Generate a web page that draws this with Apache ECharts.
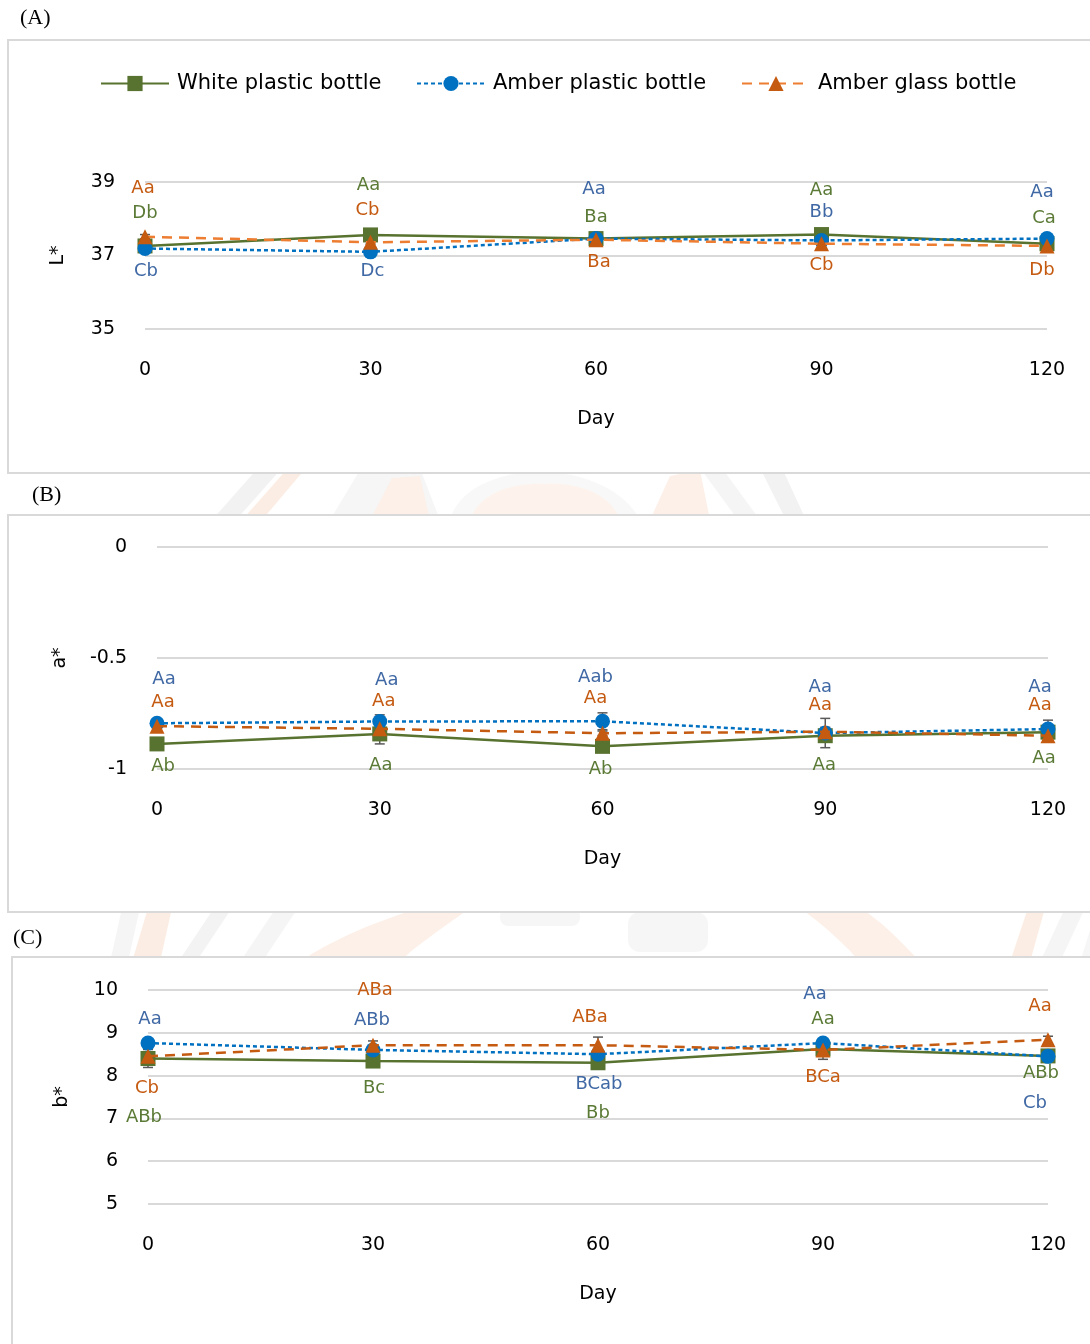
<!DOCTYPE html>
<html>
<head>
<meta charset="utf-8">
<title>Colour values L*, a*, b* during storage</title>
<script src="https://cdn.jsdelivr.net/npm/echarts@6/dist/echarts.min.js"></script>
<style>
  html, body { margin: 0; padding: 0; background: #fff; }
  #wrap { position: relative; width: 1090px; height: 1344px; overflow: hidden; }
  #emblem { position: absolute; left: 0; top: 0; }
  .panel { position: absolute; border: 2px solid #d9d9d9; background: #fff; box-sizing: border-box; }
  #chart { position: absolute; left: 0; top: 0; width: 1090px; height: 1344px; }
</style>
</head>
<body>
<div id="wrap">
  <!-- faint page emblem behind the panels -->
  <svg id="emblem" width="1090" height="1344" xmlns="http://www.w3.org/2000/svg">
    <g opacity="0.5">
      <polygon points="212,520 236,520 282,468 258,468" fill="#e6e6e6"/>
      <polygon points="242,520 262,520 306,468 288,468" fill="#f9dcc8"/>
      <path d="M330,520 L360,470 L420,468 L440,520 Z" fill="#eeeeee"/>
      <path d="M370,520 L392,478 L420,476 L430,520 Z" fill="#fbe2d2"/>
      <path d="M450,520 C460,480 520,470 540,472 C560,470 620,480 640,520 Z" fill="#f3f3f3"/>
      <path d="M470,520 C480,490 520,482 545,484 C570,482 610,490 620,520 Z" fill="#fde8db"/>
      <path d="M650,520 L670,476 L700,470 L710,520 Z" fill="#fbe2d2"/>
      <polygon points="700,468 722,468 760,520 738,520" fill="#ececec"/>
      <polygon points="760,468 782,468 806,520 786,520" fill="#e6e6e6"/>
      <polygon points="110,962 128,962 140,908 122,908" fill="#ececec"/>
      <polygon points="132,962 160,962 172,908 148,908" fill="#f9dcc8"/>
      <polygon points="178,962 196,962 232,908 214,908" fill="#e8e8e8"/>
      <polygon points="240,962 262,962 298,908 276,908" fill="#ececec"/>
      <path d="M300,962 C330,940 380,920 420,908 L470,908 C440,930 410,950 400,962 Z" fill="#fbe2d2"/>
      <rect x="500" y="908" width="80" height="18" rx="8" fill="#eeeeee"/>
      <rect x="628" y="912" width="80" height="40" rx="12" fill="#eeeeee"/>
      <path d="M920,962 C900,940 880,920 860,908 L800,908 C830,930 850,950 860,962 Z" fill="#fbe2d2"/>
      <polygon points="1040,962 1060,962 1085,908 1065,908" fill="#ececec"/>
      <polygon points="1080,962 1090,962 1090,930" fill="#eeeeee"/>
      <polygon points="1010,962 1030,962 1045,908 1028,908" fill="#f9dcc8"/>
    </g>
  </svg>
  <div class="panel" style="left:7px;top:39px;width:1100px;height:435px"></div>
  <div class="panel" style="left:7px;top:514px;width:1100px;height:399px"></div>
  <div class="panel" style="left:11px;top:956px;width:1100px;height:420px"></div>
  <div id="chart"></div>
</div>
<script>
// Storage time (days)
const days = [0, 30, 60, 90, 120];
const seriesNames = ['White plastic bottle', 'Amber plastic bottle', 'Amber glass bottle'];

// (A) L*
const lWhite = [37.26, 37.56, 37.46, 37.57, 37.32];
const lAmberPlastic = [37.19, 37.10, 37.46, 37.41, 37.46];
const lAmberGlass = [37.51, 37.36, 37.43, 37.32, 37.26];
const lWhiteSd = [0.06, 0.08, 0.05, 0.06, 0.05];
const lAmberPlasticSd = [0.05, 0.06, 0.05, 0.05, 0.06];
const lAmberGlassSd = [0.06, 0.05, 0.05, 0.05, 0.06];
const lWhiteLetters = ['Db', 'Aa', 'Ba', 'Aa', 'Ca'];
const lAmberPlasticLetters = ['Cb', 'Dc', 'Aa', 'Bb', 'Aa'];
const lAmberGlassLetters = ['Aa', 'Cb', 'Ba', 'Cb', 'Db'];

// (B) a*
const aWhite = [-0.887, -0.842, -0.898, -0.850, -0.834];
const aAmberPlastic = [-0.794, -0.786, -0.785, -0.838, -0.820];
const aAmberGlass = [-0.807, -0.819, -0.839, -0.832, -0.850];
const aWhiteSd = [0.01, 0.045, 0.01, 0.02, 0.01];
const aAmberPlasticSd = [0.01, 0.03, 0.038, 0.066, 0.04];
const aAmberGlassSd = [0.01, 0.01, 0.01, 0.02, 0.01];
const aWhiteLetters = ['Ab', 'Aa', 'Ab', 'Aa', 'Aa'];
const aAmberPlasticLetters = ['Aa', 'Aa', 'Aab', 'Aa', 'Aa'];
const aAmberGlassLetters = ['Aa', 'Aa', 'Aa', 'Aa', 'Aa'];

// (C) b*
const bWhite = [8.40, 8.34, 8.30, 8.62, 8.46];
const bAmberPlastic = [8.76, 8.60, 8.50, 8.76, 8.45];
const bAmberGlass = [8.45, 8.71, 8.71, 8.60, 8.84];
const bWhiteSd = [0.21, 0.08, 0.06, 0.08, 0.06];
const bAmberPlasticSd = [0.06, 0.08, 0.06, 0.06, 0.06];
const bAmberGlassSd = [0.08, 0.10, 0.19, 0.22, 0.08];
const bWhiteLetters = ['ABb', 'Bc', 'Bb', 'Aa', 'ABb'];
const bAmberPlasticLetters = ['Aa', 'ABb', 'BCab', 'Aa', 'Cb'];
const bAmberGlassLetters = ['Cb', 'ABa', 'ABa', 'BCa', 'Aa'];

// Placement of the significance letters, px from each marker [dx, dy]
const lWhiteLetterPos = [[0, -33], [-2, -50], [0, -21], [0, -44], [-3, -25]];
const lAmberPlasticLetterPos = [[1, 23], [2, 20], [-2, -49], [0, -28], [-5, -46]];
const lAmberGlassLetterPos = [[-2, -48], [-3, -32], [3, 23], [0, 22], [-5, 24]];
const aWhiteLetterPos = [[6, 22], [1, 31], [-2, 23], [-1, 30], [-4, 26]];
const aAmberPlasticLetterPos = [[7, -44], [7, -41], [-7, -44], [-5, -46], [-8, -42]];
const aAmberGlassLetterPos = [[6, -24], [4, -27], [-7, -35], [-5, -26], [-8, -30]];
const bWhiteLetterPos = [[-4, 59], [1, 27], [0, 51], [0, -30], [-7, 17]];
const bAmberPlasticLetterPos = [[2, -24], [-1, -30], [1, 30], [-8, -49], [-13, 47]];
const bAmberGlassLetterPos = [[-1, 32], [2, -55], [-8, -28], [0, 27], [-8, -33]];

const FONT = 'DejaVu Sans';
const GREEN = '#58722f', BLUE = '#0070c0', ORANGE_LIGHT = '#ed7d31', ORANGE = '#c55a11';
const GREEN_TEXT = '#5b7a36', BLUE_TEXT = '#3f68a4', ORANGE_TEXT = '#c55a11';

const panels = [
  { name: 'L*', min: 35, max: 39, interval: 2, nameGap: 77,
    grid: { left: 145, top: 182, width: 902, height: 147 },
    series: [
      [lWhite, lWhiteSd, lWhiteLetters, lWhiteLetterPos],
      [lAmberPlastic, lAmberPlasticSd, lAmberPlasticLetters, lAmberPlasticLetterPos],
      [lAmberGlass, lAmberGlassSd, lAmberGlassLetters, lAmberGlassLetterPos]
    ], glassLine: ORANGE_LIGHT },
  { name: 'a*', min: -1, max: 0, interval: 0.5, nameGap: 87,
    grid: { left: 157, top: 547, width: 891, height: 222 },
    series: [
      [aWhite, aWhiteSd, aWhiteLetters, aWhiteLetterPos],
      [aAmberPlastic, aAmberPlasticSd, aAmberPlasticLetters, aAmberPlasticLetterPos],
      [aAmberGlass, aAmberGlassSd, aAmberGlassLetters, aAmberGlassLetterPos]
    ], glassLine: ORANGE },
  { name: 'b*', min: 5, max: 10, interval: 1, nameGap: 76,
    grid: { left: 148, top: 990, width: 900, height: 214 },
    series: [
      [bWhite, bWhiteSd, bWhiteLetters, bWhiteLetterPos],
      [bAmberPlastic, bAmberPlasticSd, bAmberPlasticLetters, bAmberPlasticLetterPos],
      [bAmberGlass, bAmberGlassSd, bAmberGlassLetters, bAmberGlassLetterPos]
    ], glassLine: ORANGE }
];

const styles = [
  { symbol: 'rect', color: GREEN, text: GREEN_TEXT, line: () => ({ color: GREEN, width: 2.5, type: 'solid' }) },
  { symbol: 'circle', color: BLUE, text: BLUE_TEXT, line: () => ({ color: BLUE, width: 2.5, type: [4, 3] }) },
  { symbol: 'triangle', color: ORANGE, text: ORANGE_TEXT, line: (p) => ({ color: p.glassLine, width: 2.5, type: [10, 7] }) }
];

function errorBars(idx, values, sd) {
  return {
    type: 'custom', xAxisIndex: idx, yAxisIndex: idx, z: 1, silent: true,
    encode: { x: 0, y: [1, 2] },
    data: days.map((d, i) => [d, values[i] - sd[i], values[i] + sd[i]]),
    renderItem: function (params, api) {
      const lo = api.coord([api.value(0), api.value(1)]);
      const hi = api.coord([api.value(0), api.value(2)]);
      const w = 5;
      const st = { stroke: '#595959', lineWidth: 1.5 };
      return {
        type: 'group',
        children: [
          { type: 'line', shape: { x1: lo[0], y1: lo[1], x2: hi[0], y2: hi[1] }, style: st },
          { type: 'line', shape: { x1: lo[0] - w, y1: lo[1], x2: lo[0] + w, y2: lo[1] }, style: st },
          { type: 'line', shape: { x1: hi[0] - w, y1: hi[1], x2: hi[0] + w, y2: hi[1] }, style: st }
        ]
      };
    }
  };
}

const grids = [], xAxes = [], yAxes = [], series = [];
panels.forEach((p, idx) => {
  grids.push(p.grid);
  xAxes.push({
    type: 'value', gridIndex: idx, min: 0, max: 120, interval: 30,
    axisLine: { show: false }, axisTick: { show: false }, splitLine: { show: false },
    axisLabel: { margin: 32, fontSize: 19, color: '#000', fontFamily: FONT },
    name: 'Day', nameLocation: 'middle', nameGap: 81,
    nameTextStyle: { fontSize: 19, color: '#000', fontFamily: FONT }
  });
  yAxes.push({
    type: 'value', gridIndex: idx, min: p.min, max: p.max, interval: p.interval,
    axisLine: { show: false }, axisTick: { show: false },
    splitLine: { show: true, lineStyle: { color: '#d9d9d9', width: 2 } },
    axisLabel: { margin: 30, fontSize: 19, color: '#000', fontFamily: FONT },
    name: p.name, nameLocation: 'middle', nameGap: p.nameGap,
    nameTextStyle: { fontSize: 19, color: '#000', fontFamily: FONT }
  });
  p.series.forEach(([values, sd]) => series.push(errorBars(idx, values, sd)));
  p.series.forEach(([values, sd, letters, pos], k) => {
    const s = styles[k];
    series.push({
      type: 'line', name: seriesNames[k], xAxisIndex: idx, yAxisIndex: idx, z: 2 + k,
      symbol: s.symbol, symbolSize: 15,
      itemStyle: { color: s.color },
      lineStyle: s.line(p),
      emphasis: { disabled: true },
      data: days.map((d, i) => ({
        value: [d, values[i]],
        label: {
          show: true, formatter: letters[i], position: 'inside', offset: pos[i],
          color: s.text, fontSize: 18, fontFamily: FONT
        }
      }))
    });
  });
});

const legendLeft = [100, 416, 741];
const legends = seriesNames.map((n, i) => ({
  data: [n], left: legendLeft[i], top: 73, padding: 0, orient: 'horizontal',
  itemWidth: 68, itemHeight: 19, selectedMode: false,
  textStyle: { fontSize: 21, color: '#000', fontFamily: FONT, padding: [0, 0, 0, 3] }
}));

const titleStyle = { fill: '#000', font: '22px "Liberation Serif", serif', textVerticalAlign: 'middle' };
const chart = echarts.init(document.getElementById('chart'), null, { renderer: 'canvas' });
chart.setOption({
  animation: false,
  backgroundColor: 'transparent',
  grid: grids,
  xAxis: xAxes,
  yAxis: yAxes,
  legend: legends,
  graphic: [
    { type: 'text', left: 20, top: 7, style: Object.assign({ text: '(A)' }, titleStyle) },
    { type: 'text', left: 32, top: 484, style: Object.assign({ text: '(B)' }, titleStyle) },
    { type: 'text', left: 13, top: 927, style: Object.assign({ text: '(C)' }, titleStyle) }
  ],
  series: series
});
</script>
</body>
</html>
